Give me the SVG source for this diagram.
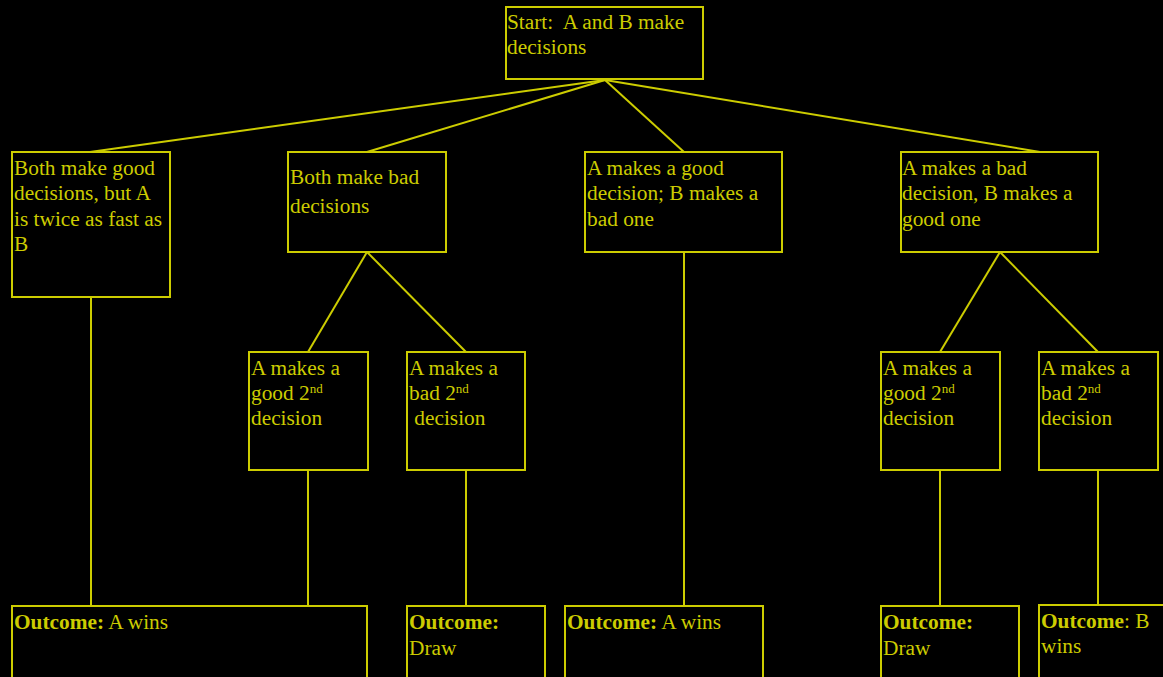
<svg xmlns="http://www.w3.org/2000/svg" width="1163" height="677" viewBox="0 0 1163 677">
<style>
.bx{fill:#000;stroke:#CCCC00;stroke-width:2}
.ln{stroke:#CCCC00;stroke-width:2;fill:none}
text{font-family:"Liberation Serif","Times New Roman",serif;font-size:21.33px;fill:#CCCC00}
.b{font-weight:bold}
.sup{font-size:13px}
</style>
<rect width="1163" height="677" fill="#000"/>
<g id="connectors">
<line class="ln" x1="605" y1="80" x2="90" y2="152"/>
<line class="ln" x1="605" y1="80" x2="367" y2="152"/>
<line class="ln" x1="605" y1="80" x2="684" y2="152"/>
<line class="ln" x1="605" y1="80" x2="1040" y2="152"/>
<line class="ln" x1="91" y1="297" x2="91" y2="606"/>
<line class="ln" x1="367" y1="252" x2="308" y2="352"/>
<line class="ln" x1="367" y1="252" x2="466" y2="352"/>
<line class="ln" x1="308" y1="470" x2="308" y2="606"/>
<line class="ln" x1="466" y1="470" x2="466" y2="606"/>
<line class="ln" x1="684" y1="252" x2="684" y2="606"/>
<line class="ln" x1="1000" y1="252" x2="940" y2="352"/>
<line class="ln" x1="1000" y1="252" x2="1098" y2="352"/>
<line class="ln" x1="940" y1="470" x2="940" y2="606"/>
<line class="ln" x1="1098" y1="470" x2="1098" y2="605"/>
</g>
<g id="start">
<rect class="bx" x="506" y="7" width="197" height="72"/>
<text x="507" y="29" xml:space="preserve">Start:  A and B make</text>
<text x="507" y="54">decisions</text>
</g>
<g id="both-good">
<rect class="bx" x="12" y="152" width="158" height="145"/>
<text x="14" y="175">Both make good</text>
<text x="14" y="200">decisions, but A</text>
<text x="14" y="226">is twice as fast as</text>
<text x="14" y="251">B</text>
</g>
<g id="both-bad">
<rect class="bx" x="288" y="152" width="158" height="100"/>
<text x="290" y="184">Both make bad</text>
<text x="290" y="213">decisions</text>
</g>
<g id="a-good-b-bad">
<rect class="bx" x="585" y="152" width="197" height="100"/>
<text x="587" y="175">A makes a good</text>
<text x="587" y="200">decision; B makes a</text>
<text x="587" y="226">bad one</text>
</g>
<g id="a-bad-b-good">
<rect class="bx" x="901" y="152" width="197" height="100"/>
<text x="902" y="175">A makes a bad</text>
<text x="902" y="200">decision, B makes a</text>
<text x="902" y="226">good one</text>
</g>
<g id="bb-good2">
<rect class="bx" x="249" y="352" width="119" height="118"/>
<text x="251" y="375">A makes a</text>
<text x="251" y="400">good 2<tspan class="sup" dy="-7">nd</tspan></text>
<text x="251" y="425">decision</text>
</g>
<g id="bb-bad2">
<rect class="bx" x="407" y="352" width="118" height="118"/>
<text x="409" y="375">A makes a</text>
<text x="409" y="400">bad 2<tspan class="sup" dy="-7">nd</tspan></text>
<text x="409" y="425" xml:space="preserve"> decision</text>
</g>
<g id="ab-good2">
<rect class="bx" x="881" y="352" width="119" height="118"/>
<text x="883" y="375">A makes a</text>
<text x="883" y="400">good 2<tspan class="sup" dy="-7">nd</tspan></text>
<text x="883" y="425">decision</text>
</g>
<g id="ab-bad2">
<rect class="bx" x="1039" y="352" width="119" height="118"/>
<text x="1041" y="375">A makes a</text>
<text x="1041" y="400">bad 2<tspan class="sup" dy="-7">nd</tspan></text>
<text x="1041" y="425">decision</text>
</g>
<g id="out1">
<rect class="bx" x="12" y="606" width="355" height="80"/>
<text x="14" y="629"><tspan class="b">Outcome:</tspan> A wins</text>
</g>
<g id="out2">
<rect class="bx" x="407" y="606" width="138" height="80"/>
<text x="409" y="629" class="b">Outcome:</text>
<text x="409" y="655">Draw</text>
</g>
<g id="out3">
<rect class="bx" x="565" y="606" width="198" height="80"/>
<text x="567" y="629"><tspan class="b">Outcome:</tspan> A wins</text>
</g>
<g id="out4">
<rect class="bx" x="881" y="606" width="138" height="80"/>
<text x="883" y="629" class="b">Outcome:</text>
<text x="883" y="655">Draw</text>
</g>
<g id="out5">
<rect class="bx" x="1039" y="605" width="140" height="80"/>
<text x="1041" y="628"><tspan class="b">Outcome</tspan>: B</text>
<text x="1041" y="653">wins</text>
</g>
</svg>
